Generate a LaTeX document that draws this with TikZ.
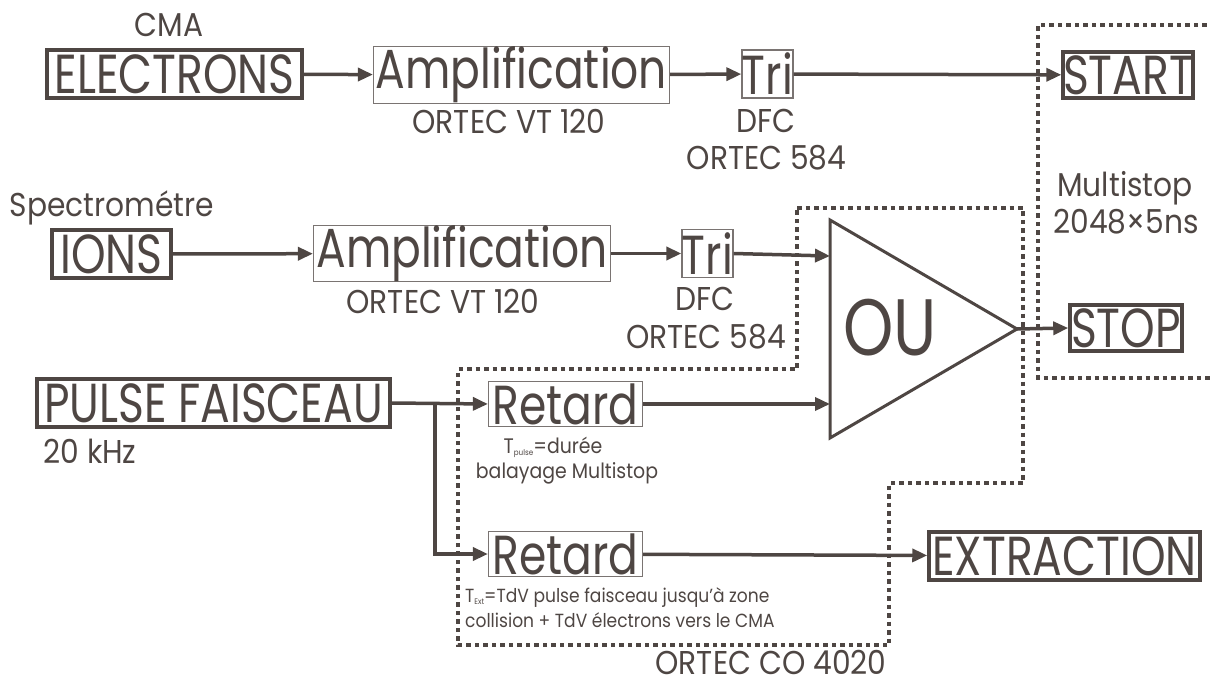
\documentclass[tikz,border=0pt]{standalone}
\usepackage{fontspec}
\setmainfont{Poppins}[FakeStretch=0.8]
\newfontfamily\labelfont{Poppins}[FakeStretch=0.9]
\usetikzlibrary{arrows.meta}
\definecolor{ink}{RGB}{78,70,67}
\tikzset{
  big/.style={font=\fontsize{55}{55}\selectfont, inner sep=0pt, text=ink},
  mid/.style={font=\labelfont\fontsize{33}{33}\selectfont, text height=23pt, text depth=0pt, inner sep=0pt, text=ink},
  small/.style={font=\labelfont\fontsize{21}{21}\selectfont, text height=14.5pt, text depth=0pt, inner sep=0pt, text=ink},
  note/.style={small, font=\labelfont\fontsize{19}{19}\selectfont, text height=13.5pt},
  thickbox/.style={big, draw=ink, line width=3.5pt},
  thinbox/.style={big, draw=ink!75, line width=1.2pt},
  conn/.style={ink, line width=3.5pt, -{Triangle[length=15pt,width=13pt]}},
  frame/.style={ink, line width=3.5pt, dash pattern=on 4.5pt off 4pt},
}
\newcommand{\subtiny}[1]{\raisebox{-2pt}{\fontsize{8}{8}\selectfont #1}}
\begin{document}
\begin{tikzpicture}[x=1pt,y=-1pt]
  \useasboundingbox (0,0) rectangle (1210,679);
  % dotted frames
  \draw[frame] (1215,25) -- (1038,25) -- (1038,378) -- (1215,378);
  \draw[frame] (797,208) -- (1023,208) -- (1023,483) -- (889,483) -- (889,645)
    -- (458,645) -- (458,369) -- (797,369) -- cycle;
  % electrons line
  \node[thickbox, minimum width=255pt, minimum height=48pt] (elec) at (174.5,74) {ELECTRONS};
  \node[thinbox, minimum width=296pt, minimum height=47pt] (amp1) at (521.5,75) {Amplification};
  \node[thinbox, minimum width=50pt, minimum height=48pt] (tri1) at (767.5,74) {Tri};
  \node[thickbox, minimum width=126pt, minimum height=46pt] (start) at (1128,75) {START};
  \node[mid] (cma) at (169,25) {CMA};
  \node[mid] (vt1) at (509,122) {ORTEC VT 120};
  \node[mid] (dfc1) at (766,121) {DFC};
  \node[mid] (or1) at (766.5,158) {ORTEC 584};
  % ions line
  \node[thickbox, minimum width=119pt, minimum height=48pt] (ions) at (111.5,254) {IONS};
  \node[thinbox, minimum width=297pt, minimum height=48pt] (amp2) at (462,253.5) {Amplification};
  \node[thinbox, minimum width=50pt, minimum height=48pt] (tri2) at (707.5,253.5) {Tri};
  \node[mid] (spec) at (112,205) {Spectrométre};
  \node[mid] (vt2) at (443,302) {ORTEC VT 120};
  \node[mid] (dfc2) at (705,299) {DFC};
  \node[mid] (or2) at (706,337) {ORTEC 584};
  % OU gate
  \coordinate (ou-a) at (830,220);
  \coordinate (ou-b) at (830,438);
  \coordinate (ou-out) at (1017,329);
  \coordinate (ou-in1) at (830,256);
  \coordinate (ou-in2) at (830,404);
  \draw[ink, line width=3pt] (ou-a) -- (ou-out) -- (ou-b) -- cycle;
  \node[font=\fontsize{80}{80}\selectfont, text=ink, inner sep=0pt] (ou) at (890,328) {OU};
  \node[thickbox, minimum width=112pt, minimum height=46pt] (stop) at (1126,328) {STOP};
  \node[mid] (multi) at (1125,185) {Multistop};
  \node[mid] (ns) at (1126,222) {2048×5ns};
  % pulse line
  \node[thickbox, minimum width=353pt, minimum height=48pt] (pulse) at (213.5,403) {PULSE FAISCEAU};
  \node[thinbox, minimum width=154pt, minimum height=45pt] (ret1) at (565.5,404) {Retard};
  \node[thinbox, minimum width=154pt, minimum height=45pt] (ret2) at (565.5,554) {Retard};
  \node[thickbox, minimum width=271pt, minimum height=48pt] (extr) at (1064.5,556) {EXTRACTION};
  \node[mid] (khz) at (90,452) {20 kHz};
  \node[small] (tp1) at (553,446) {T\subtiny{pulse}=durée};
  \node[small] (tp2) at (567,471) {balayage Multistop};
  \node[note, anchor=west] (te1) at (465,596) {T\subtiny{Ext}=TdV pulse faisceau jusqu’à zone};
  \node[note, anchor=west] (te2) at (465,621) {collision + TdV électrons vers le CMA};
  \node[mid] (co) at (771,663) {ORTEC CO 4020};
  \coordinate (br) at (435,403);
  % connectors
  \draw[conn] (elec) -- (amp1);
  \draw[conn] (amp1) -- (tri1);
  \draw[conn] (tri1) -- (start);
  \draw[conn] (ions) -- (amp2);
  \draw[conn] (amp2) -- (tri2);
  \draw[conn] (tri2.east) -- (ou-in1);
  \draw[conn] (ou-out) -- (stop.west);
  \draw[conn] (pulse.east) -- (ret1.west);
  \draw[conn] (br) |- (ret2.west);
  \draw[conn] (ret1.east) -- (ou-in2);
  \draw[conn] (ret2) -- (extr);
\end{tikzpicture}
\end{document}
